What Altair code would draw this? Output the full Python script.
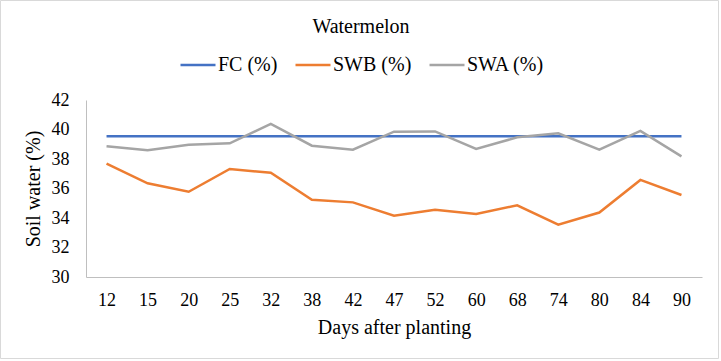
import altair as alt
import pandas as pd

# Days after planting (categorical axis)
days = [12, 15, 20, 25, 32, 38, 42, 47, 52, 60, 68, 74, 80, 84, 90]

# Soil water content (%) per series
fc = [39.55] * len(days)
swb = [37.68, 36.35, 35.78, 37.32, 37.07, 35.24, 35.06, 34.15, 34.56, 34.27,
       34.86, 33.55, 34.37, 36.58, 35.56]
swa = [38.86, 38.59, 38.97, 39.06, 40.38, 38.90, 38.63, 39.85, 39.87, 38.68,
       39.47, 39.74, 38.63, 39.90, 38.18]

series_names = ["FC (%)", "SWB (%)", "SWA (%)"]
series_colors = ["#4472C4", "#ED7D31", "#A5A5A5"]

rows = []
for name, vals in zip(series_names, [fc, swb, swa]):
    for d, v in zip(days, vals):
        rows.append({"day": str(d), "value": v, "series": name})
df = pd.DataFrame(rows)

FONT = "Liberation Serif"

lines = alt.Chart(df).mark_line(strokeWidth=2.5).encode(
    x=alt.X(
        "day:N",
        sort=[str(d) for d in days],
        scale=alt.Scale(paddingInner=0, paddingOuter=0.5),
        axis=alt.Axis(
            title="Days after planting",
            labelAngle=0,
            labelFont=FONT,
            labelFontSize=18,
            labelColor="#000000",
            labelPadding=14,
            ticks=False,
            domainColor="#BFBFBF",
            domainWidth=1,
            titleFont=FONT,
            titleFontSize=20,
            titleFontWeight="normal",
            titleColor="#000000",
            titlePadding=8,
            grid=False,
        ),
    ),
    y=alt.Y(
        "value:Q",
        scale=alt.Scale(domain=[30, 42], nice=False, zero=False),
        axis=alt.Axis(
            title="Soil water (%)",
            values=[30, 32, 34, 36, 38, 40, 42],
            labelFont=FONT,
            labelFontSize=18,
            labelColor="#000000",
            labelPadding=17,
            ticks=False,
            domainColor="#BFBFBF",
            domainWidth=1,
            titleFont=FONT,
            titleFontSize=20,
            titleFontWeight="normal",
            titleColor="#000000",
            titlePadding=8,
            grid=False,
        ),
    ),
    color=alt.Color(
        "series:N",
        sort=series_names,
        scale=alt.Scale(domain=series_names, range=series_colors),
        legend=alt.Legend(
            title=None,
            orient="none",
            direction="horizontal",
            legendX=93,
            legendY=-54,
            symbolType="stroke",
            symbolSize=1225,
            symbolStrokeWidth=2.5,
            labelFont=FONT,
            labelFontSize=20,
            labelColor="#000000",
            labelOffset=1,
            columnPadding=12,
        ),
    ),
)

# Light grey frame around the whole figure
frame = alt.Chart(alt.Data(values=[{}])).mark_rect(
    fill=None, stroke="#D9D9D9", strokeWidth=1
).encode(
    x=alt.value(-85.5),
    x2=alt.value(632.5),
    y=alt.value(-99.5),
    y2=alt.value(258.5),
)

chart = alt.layer(frame, lines).properties(
    width=616,
    height=177,
    padding={"left": 86, "top": 100, "right": 19, "bottom": 84},
    autosize=alt.AutoSizeParams(type="none"),
    title=alt.TitleParams(
        "Watermelon",
        font=FONT,
        fontSize=20,
        fontWeight="normal",
        color="#000000",
        anchor="middle",
        dx=-33,
        offset=-37,
    ),
).configure_view(stroke=None)

chart.save("out.html", embed_options={"renderer": "svg", "actions": False})
